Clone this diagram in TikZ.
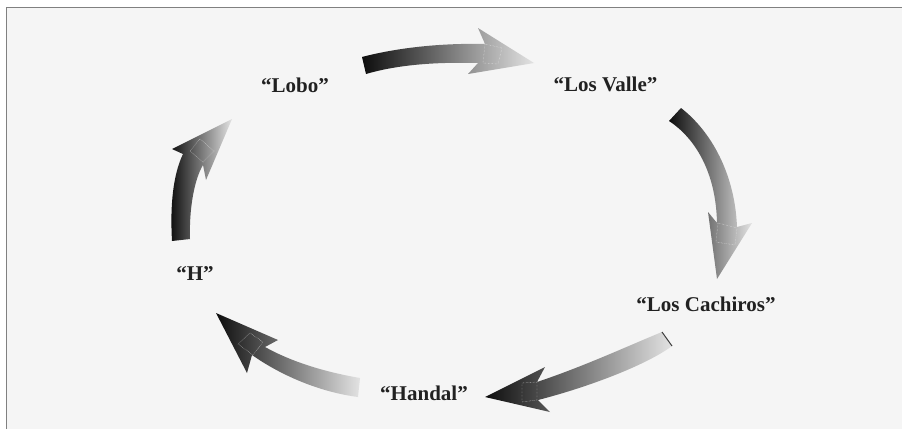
\documentclass[tikz,border=0pt]{standalone}
\usepackage{fontspec}
\setmainfont{Liberation Serif}
\begin{document}
\begin{tikzpicture}[x=1pt,y=-1pt,
  lbl/.style={font=\fontsize{21}{25}\selectfont\bfseries, text=black!87, inner sep=0pt, anchor=base},
  arr/.style={left color=#1, right color=black!11, draw=none},
  sq/.style={draw=white!80!gray, line width=0.4pt, densely dotted},
]
\useasboundingbox (0,0) rectangle (902,429);
\fill[white] (0,0) rectangle (902,429);
\fill[black!4] (6.5,7.5) rectangle (902,429);
\draw[gray, line width=1.5pt] (6.5,429) -- (6.5,7.5) -- (902,7.5);

% labels
\node[lbl] (lobo) at (295,92) {“Lobo”};
\node[lbl] (valle) at (605.5,91) {“Los Valle”};
\node[lbl] (cach) at (706,311.5) {“Los Cachiros”};
\node[lbl] (handal) at (424,400) {“Handal”};
\node[lbl] (h) at (195,280) {“H”};

% arrow 1: Lobo -> Los Valle
\path[arr=black!95] (362,57) .. controls (400,47) and (445,43) .. (485,44) -- (478,28) -- (534,63) -- (468,74) -- (478,63) .. controls (440,62) and (400,64) .. (366,74) -- cycle;
\draw[sq] (485,44) -- (502,48) -- (498,64) -- (483,63) -- cycle;

% arrow 2: Los Valle -> Los Cachiros
\path[arr=black!95] (669,121) .. controls (695,138) and (716,172) .. (717,223) -- (708,212) -- (717,279) -- (752,223) -- (737,227) .. controls (735,175) and (712,132) .. (681,108) -- cycle;
\draw[sq] (718,223) -- (737,228) -- (735,245) -- (716,242) -- cycle;

% arrow 3: Los Cachiros -> Handal
\path[arr=black!95] (662,332) .. controls (630,345) and (585,366) .. (537,382) -- (545,367) -- (485,397) -- (550,412) -- (538,400) .. controls (585,388) and (645,366) .. (672,346) -- cycle;
\draw[black!75, line width=1pt] (662,332) -- (672,346);
\draw[sq] (522,383) -- (537,382) -- (537,400) -- (522,402) -- cycle;

% arrow 4: Handal -> H
\path[arr=black!95] (360,378) .. controls (325,372) and (292,362) .. (265,347) -- (278,340) -- (216,313) -- (247,373) -- (252,355) .. controls (282,376) and (320,392) .. (358,397) -- cycle;
\draw[sq] (250,333) -- (263,342) -- (253,355) -- (238,344) -- cycle;

% arrow 5: H -> Lobo
\path[arr=black!95] (172,241) .. controls (170,205) and (173,175) .. (183,154) -- (172,149) -- (232,119) -- (206,180) -- (203,165) .. controls (194,180) and (189,210) .. (190,239) -- cycle;
\draw[sq] (200,139) -- (214,151) -- (203,162) -- (190,151) -- cycle;
\end{tikzpicture}
\end{document}
